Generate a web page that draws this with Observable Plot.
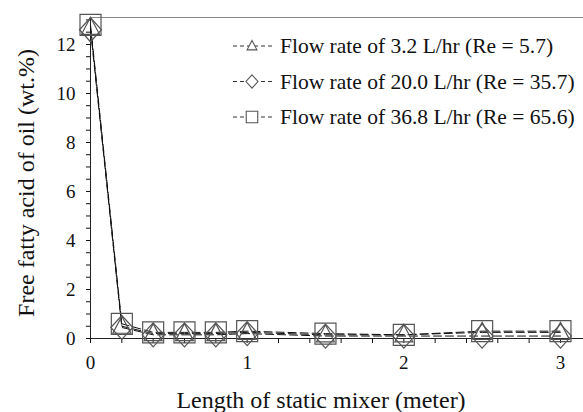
<!DOCTYPE html>
<html>
<head>
<meta charset="utf-8">
<script src="https://cdn.jsdelivr.net/npm/d3@7"></script>
<script src="https://cdn.jsdelivr.net/npm/@observablehq/plot@0.6"></script>
<style>
  html, body { margin: 0; padding: 0; background: #fff; }
  #chart { position: relative; width: 583px; height: 412px; }
  #chart svg text { font-family: 'Liberation Serif', 'Times New Roman', serif; }
</style>
</head>
<body>
<div id="chart"></div>
<script>
// ---- data ----
const lengths = [0, 0.2, 0.4, 0.6, 0.8, 1.0, 1.5, 2.0, 2.5, 3.0];
const ffa_3_2 = [12.7, 0.5, 0.2, 0.2, 0.2, 0.25, 0.15, 0.15, 0.25, 0.25];
const ffa_20_0 = [12.6, 0.45, 0.15, 0.15, 0.15, 0.2, 0.1, 0.1, 0.1, 0.1];
const ffa_36_8 = [12.8, 0.6, 0.25, 0.25, 0.25, 0.3, 0.2, 0.15, 0.3, 0.3];
const seriesNames = [
  "Flow rate of 3.2 L/hr (Re = 5.7)",
  "Flow rate of 20.0 L/hr (Re = 35.7)",
  "Flow rate of 36.8 L/hr (Re = 65.6)"
];
const xTicks = d3.range(0, 3.01, 0.2).map(d => +d.toFixed(1));
const xTickLabels = [0, 1, 2, 3];
const yTicks = d3.range(0, 13.01, 0.5);
const yTickLabels = [0, 2, 4, 6, 8, 10, 12];
const xTitle = "Length of static mixer (meter)";
const yTitle = "Free fatty acid of oil (wt.%)";

// ---- symbols ----
const symTriangle = {draw(ctx, size) { const k = Math.sqrt(size / Math.PI) / 10;
  ctx.moveTo(0, -10 * k); ctx.lineTo(9 * k, 7 * k); ctx.lineTo(-9 * k, 7 * k); ctx.closePath(); }};
const symDiamond = {draw(ctx, size) { const k = Math.sqrt(size / Math.PI) / 10;
  ctx.moveTo(0, -12 * k); ctx.lineTo(11 * k, 0); ctx.lineTo(0, 12 * k); ctx.lineTo(-11 * k, 0); ctx.closePath(); }};
const symSquare = {draw(ctx, size) { const k = Math.sqrt(size / Math.PI) / 10;
  ctx.rect(-10.5 * k, -10.5 * k, 21 * k, 21 * k); }};
const symbols = [symTriangle, symDiamond, symSquare];

const allSeries = [ffa_3_2, ffa_20_0, ffa_36_8];
const rows = allSeries.flatMap((vals, s) => vals.map((v, i) => ({x: lengths[i], y: v, s})));

const font = "'Liberation Serif', 'Times New Roman', serif";
const markerStroke = "#555";

const marks = [
  Plot.frame({anchor: "top", stroke: "#888"}),
  Plot.axisY({ticks: yTicks, tickFormat: d => yTickLabels.includes(d) ? d : "", tickSize: 4, tickPadding: 11, fontSize: 19, fontFamily: font, label: null}),
  Plot.axisX({ticks: xTicks, tickFormat: d => xTickLabels.includes(d) ? d : "", tickSize: 5, tickPadding: 12, fontSize: 19, fontFamily: font, label: null}),
  Plot.ruleX([0], {stroke: "#222"}),
  Plot.ruleY([0], {stroke: "#222"}),
];
allSeries.forEach((vals, s) => {
  const data = rows.filter(r => r.s === s);
  marks.push(Plot.line(data, {x: "x", y: "y", stroke: "#111", strokeWidth: 1, strokeDasharray: "8,4"}));
});
allSeries.forEach((vals, s) => {
  const data = rows.filter(r => r.s === s);
  marks.push(Plot.dot(data, {x: "x", y: "y", symbol: () => symbols[s], r: 10, stroke: markerStroke, strokeWidth: 1.2, fill: "none"}));
});
marks.push(Plot.text([xTitle], {frameAnchor: "bottom", dx: -16, dy: 62, lineAnchor: "middle", textAnchor: "middle", fontSize: 24, fill: "#111", fontFamily: font}));
marks.push(Plot.text([yTitle], {frameAnchor: "left", dx: -64, dy: 5, rotate: -90, lineAnchor: "middle", textAnchor: "middle", fontSize: 24, fill: "#111", fontFamily: font}));

const plot = Plot.plot({
  width: 583,
  height: 412,
  marginLeft: 90,
  marginRight: 0,
  marginTop: 17,
  marginBottom: 74,
  style: {fontFamily: font, fontSize: "17px", color: "#111", background: "#fff", overflow: "visible"},
  x: {domain: [0, 3.147]},
  y: {domain: [0, 13.1]},
  marks
});

// ---- legend drawn inside svg ----
const svg = d3.select(plot);
const leg = svg.append("g").attr("font-family", font).attr("font-size", 21.5).attr("text-anchor", "start");
seriesNames.forEach((name, i) => {
  const cy = 46 + i * 35.5;
  const g = leg.append("g").attr("transform", `translate(0,${cy})`);
  g.append("line").attr("x1", 233).attr("x2", 272).attr("y1", 0).attr("y2", 0)
    .attr("stroke", "#333").attr("stroke-dasharray", "4,3");
  const p = d3.path(); symbols[i].draw(p, Math.PI * 30);
  g.append("path").attr("d", p.toString()).attr("transform", "translate(252,0)")
    .attr("fill", "#fff").attr("stroke", markerStroke).attr("stroke-width", 1.1);
  g.append("text").attr("x", 280).attr("y", 7).attr("fill", "#111")
    .attr("text-anchor", "start").text(name);
});

document.getElementById("chart").appendChild(plot);
</script>
</body>
</html>
